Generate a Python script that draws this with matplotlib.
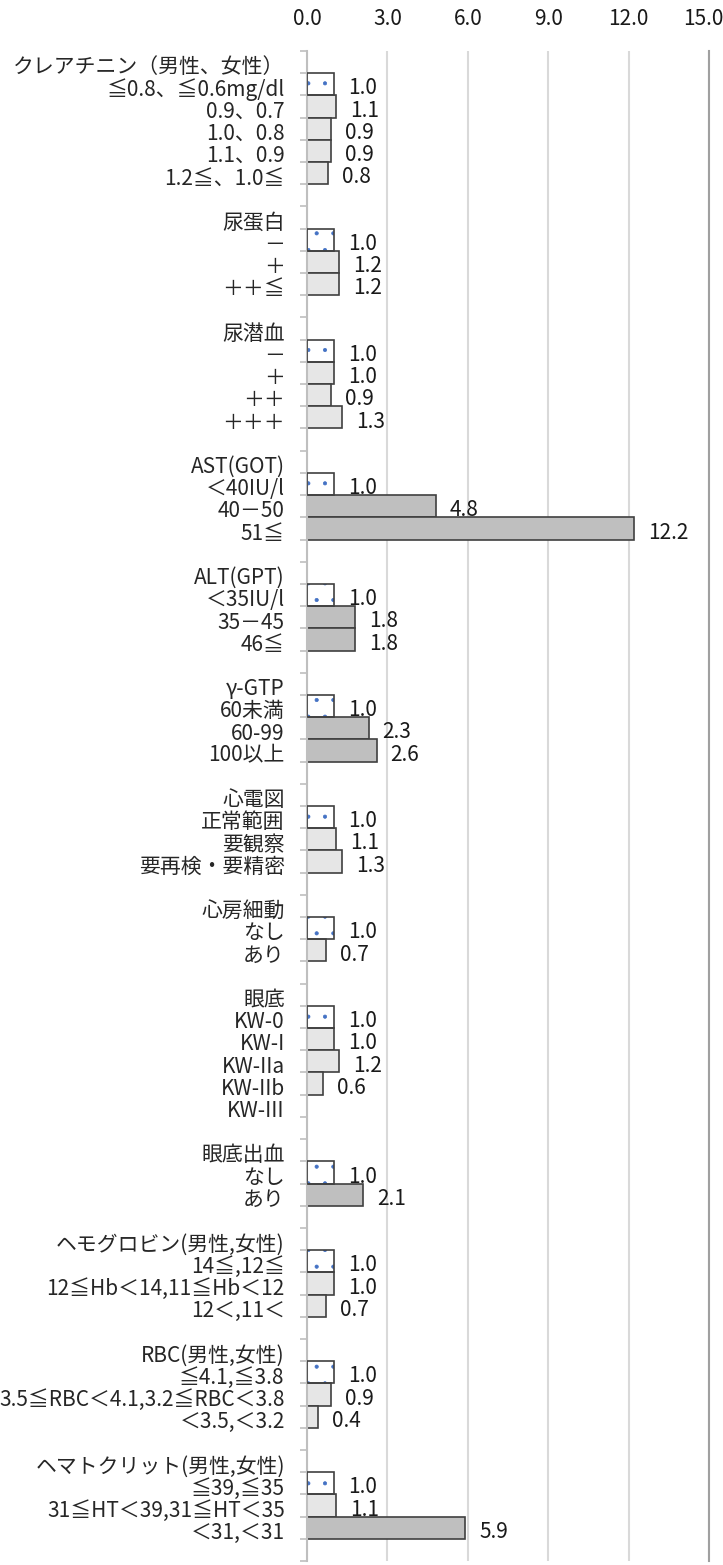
import numpy as np
import matplotlib
matplotlib.use('Agg')
import matplotlib.pyplot as plt
import matplotlib.transforms as mtransforms

plt.rcParams['font.family'] = ['Noto Sans CJK JP', 'DejaVu Sans']
plt.rcParams['hatch.linewidth'] = 0.5

# データ
groups = ["クレアチニン（男性、女性）", "尿蛋白", "尿潜血", "AST(GOT)", "ALT(GPT)",
          "γ-GTP", "心電図", "心房細動", "眼底", "眼底出血",
          "ヘモグロビン(男性,女性)", "RBC(男性,女性)", "ヘマトクリット(男性,女性)"]
items = [
    ["≦0.8、≦0.6mg/dl", "0.9、0.7", "1.0、0.8", "1.1、0.9", "1.2≦、1.0≦"],
    ["－", "＋", "＋＋≦"],
    ["－", "＋", "＋＋", "＋＋＋"],
    ["＜40IU/l", "40－50", "51≦"],
    ["＜35IU/l", "35－45", "46≦"],
    ["60未満", "60-99", "100以上"],
    ["正常範囲", "要観察", "要再検・要精密"],
    ["なし", "あり"],
    ["KW-0", "KW-I", "KW-IIa", "KW-IIb", "KW-III"],
    ["なし", "あり"],
    ["14≦,12≦", "12≦Hb＜14,11≦Hb＜12", "12＜,11＜"],
    ["≦4.1,≦3.8", "3.5≦RBC＜4.1,3.2≦RBC＜3.8", "＜3.5,＜3.2"],
    ["≦39,≦35", "31≦HT＜39,31≦HT＜35", "＜31,＜31"],
]
values = [
    [1.0, 1.1, 0.9, 0.9, 0.8],
    [1.0, 1.2, 1.2],
    [1.0, 1.0, 0.9, 1.3],
    [1.0, 4.8, 12.2],
    [1.0, 1.8, 1.8],
    [1.0, 2.3, 2.6],
    [1.0, 1.1, 1.3],
    [1.0, 0.7],
    [1.0, 1.0, 1.2, 0.6, None],
    [1.0, 2.1],
    [1.0, 1.0, 0.7],
    [1.0, 0.9, 0.4],
    [1.0, 1.1, 5.9],
]
# 有意差あり(濃い灰色)
significant = [
    [0, 0, 0, 0, 0],
    [0, 0, 0],
    [0, 0, 0, 0],
    [0, 1, 1],
    [0, 1, 1],
    [0, 1, 1],
    [0, 0, 0],
    [0, 0],
    [0, 0, 0, 0, 0],
    [0, 1],
    [0, 0, 0],
    [0, 0, 0],
    [0, 0, 1],
]
xticks = [0, 3, 6, 9, 12, 15]

# 行を並べる (見出し行, 項目, 空行)
labels, vals, kinds = [], [], []
for g, its, vs, sg in zip(groups, items, values, significant):
    labels.append(g); vals.append(None); kinds.append('head')
    for i, (lab, v, s) in enumerate(zip(its, vs, sg)):
        labels.append(lab); vals.append(v)
        kinds.append('ref' if i == 0 else ('sig' if s else 'ns'))
    labels.append(""); vals.append(None); kinds.append('blank')

n = len(labels)
y = np.arange(n)

fig = plt.figure(figsize=(7.23, 15.65), dpi=100)
ax = fig.add_axes([307/723, 1 - 1561/1565, (709 - 307)/723, (1561 - 51)/1565])

edge = '#404040'
fs = 15
for yi, v, k in zip(y, vals, kinds):
    if v is None:
        continue
    if k == 'ref':
        ax.barh(yi, v, height=1.0, color='white', edgecolor='#4472c4',
                linewidth=0, hatch='.', zorder=2)
        ax.barh(yi, v, height=1.0, fill=False, edgecolor=edge, linewidth=1.2, zorder=3)
    else:
        c = '#bfbfbf' if k == 'sig' else '#e6e6e6'
        ax.barh(yi, v, height=1.0, color=c, edgecolor=edge, linewidth=1.2, zorder=2)
    ax.annotate(f"{v:.1f}", (v, yi), xytext=(10, -3), textcoords='offset points',
                ha='left', va='center', fontsize=fs, color='#1a1a1a')

ax.set_xlim(0, 15)
ax.set_ylim(n - 0.5, -0.5)
ax.xaxis.tick_top()
ax.set_xticks(xticks)
ax.set_xticklabels([f"{t:.1f}" for t in xticks], fontsize=fs, color='#1a1a1a')
ax.tick_params(axis='x', length=0, pad=15)
# 右端の 15.0 が切れないよう少し左へ
last = ax.get_xticklabels()[-1]
last.set_transform(last.get_transform() + mtransforms.ScaledTranslation(-4/72, 0, fig.dpi_scale_trans))

ax.set_yticks(y)
ax.set_yticklabels(labels, fontsize=fs, color='#262626')
ax.tick_params(axis='y', which='major', length=0, pad=16)
ax.set_yticks(np.arange(-0.5, n, 1.0), minor=True)
ax.tick_params(axis='y', which='minor', length=5, width=1.2, color='#bfbfbf', direction='out')
shift = mtransforms.ScaledTranslation(0, -2/72, fig.dpi_scale_trans)
for t in ax.get_yticklabels():
    t.set_transform(t.get_transform() + shift)

ax.grid(axis='x', color='#d9d9d9', linewidth=1.5, zorder=0)
ax.set_axisbelow(True)
ax.spines['top'].set_visible(False)
ax.spines['bottom'].set_visible(False)
ax.spines['left'].set_color('#bfbfbf')
ax.spines['left'].set_linewidth(1.5)
ax.spines['right'].set_color('#a0a0a0')
ax.spines['right'].set_linewidth(1.5)

fig.savefig('out.png', dpi=100)
